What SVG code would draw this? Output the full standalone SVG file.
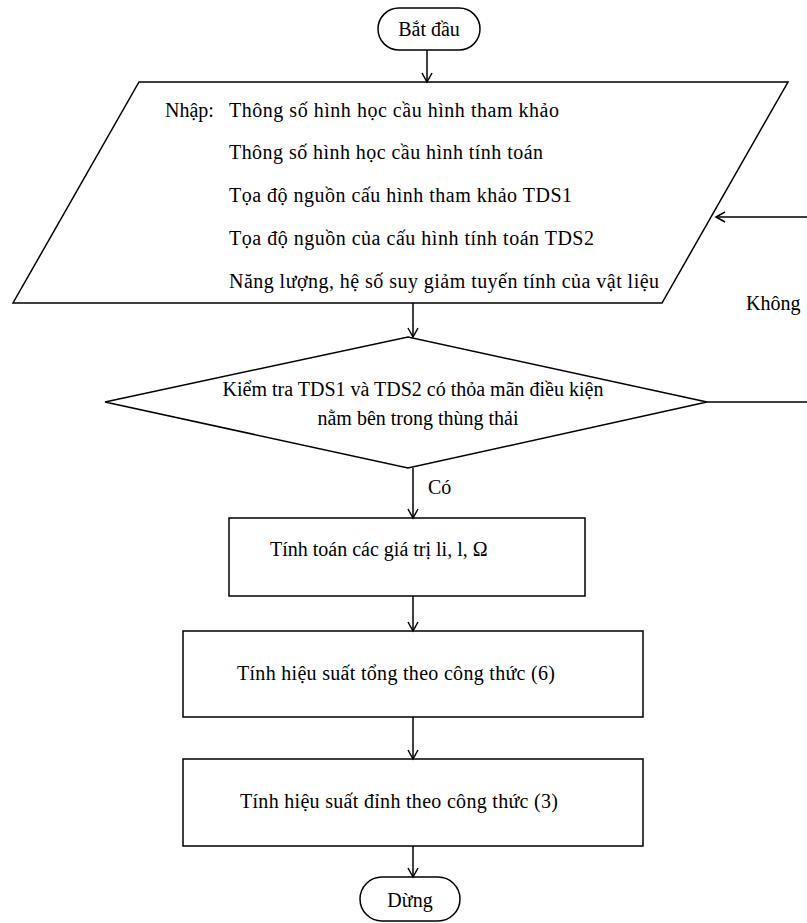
<svg xmlns="http://www.w3.org/2000/svg" width="807" height="923" viewBox="0 0 807 923">
<style>
.s{fill:#fff;stroke:#000;stroke-width:1.5}
.t{font-family:"Liberation Serif","Times New Roman",serif;font-size:20px;fill:#000}
.c{fill:none;stroke:#000;stroke-width:1.5}
</style>
<defs>
<marker id="a" markerWidth="12" markerHeight="12" refX="10" refY="6" orient="auto" markerUnits="userSpaceOnUse">
<path d="M1,1 L10,6 L1,11" fill="none" stroke="#000" stroke-width="1.5"/>
</marker>
</defs>
<rect width="807" height="923" fill="#fff"/>
<g id="start">
<rect class="s" x="378" y="8" width="102" height="42" rx="21"/>
<text class="t" x="429" y="36" text-anchor="middle">Bắt đầu</text>
</g>
<g id="input">
<polygon class="s" points="139,82 788,82 662,303 13,303"/>
<text class="t" x="165" y="117">Nhập:</text>
<text class="t" x="229" y="117" textLength="330" lengthAdjust="spacing">Thông số hình học cầu hình tham khảo</text>
<text class="t" x="229" y="159" textLength="314" lengthAdjust="spacing">Thông số hình học cầu hình tính toán</text>
<text class="t" x="229" y="202" textLength="343" lengthAdjust="spacing">Tọa độ nguồn cấu hình tham khảo TDS1</text>
<text class="t" x="229" y="245" textLength="365" lengthAdjust="spacing">Tọa độ nguồn của cấu hình tính toán TDS2</text>
<text class="t" x="229" y="288" textLength="430" lengthAdjust="spacing">Năng lượng, hệ số suy giảm tuyến tính của vật liệu</text>
</g>
<g id="check">
<polygon class="s" points="105,402 408,337 707,402 408,468"/>
<text class="t" x="413" y="396" text-anchor="middle">Kiểm tra TDS1 và TDS2 có thỏa mãn điều kiện</text>
<text class="t" x="418" y="425" text-anchor="middle">nằm bên trong thùng thải</text>
</g>
<g id="calc1">
<rect class="s" x="229" y="518" width="356" height="78"/>
<text class="t" x="270" y="556">Tính toán các giá trị li, l, Ω</text>
</g>
<g id="calc2">
<rect class="s" x="183" y="631" width="460" height="86"/>
<text class="t" x="237" y="680" textLength="318" lengthAdjust="spacing">Tính hiệu suất tổng theo công thức (6)</text>
</g>
<g id="calc3">
<rect class="s" x="183" y="759" width="460" height="87"/>
<text class="t" x="240" y="808" textLength="318" lengthAdjust="spacing">Tính hiệu suất đỉnh theo công thức (3)</text>
</g>
<g id="stop">
<rect class="s" x="360" y="877" width="100" height="44" rx="22"/>
<text class="t" x="410" y="907" text-anchor="middle">Dừng</text>
</g>
<g id="connectors">
<path class="c" d="M427,50 V82" marker-end="url(#a)"/>
<path class="c" d="M413,303 V337" marker-end="url(#a)"/>
<path class="c" d="M413,468 V518" marker-end="url(#a)"/>
<path class="c" d="M413,596 V631" marker-end="url(#a)"/>
<path class="c" d="M413,717 V759" marker-end="url(#a)"/>
<path class="c" d="M413,846 V877" marker-end="url(#a)"/>
<path class="c" d="M707,402 H810 V217 H716" marker-end="url(#a)"/>
<text class="t" x="428" y="494">Có</text>
<text class="t" x="746" y="310">Không</text>
</g>
</svg>
